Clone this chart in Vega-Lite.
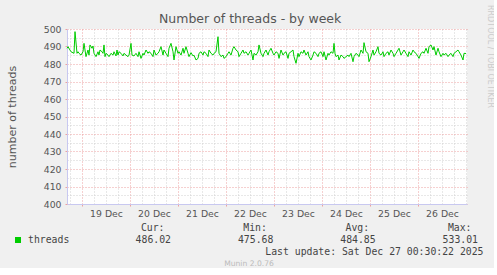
{
  "$schema": "https://vega.github.io/schema/vega-lite/v6.json",
  "background": "#f0f0f0",
  "padding": {"left": 6, "top": 5, "right": 0, "bottom": 0},
  "title": {"text": "Number of threads - by week", "font": "DejaVu Sans", "fontSize": 12.5, "fontWeight": "normal", "color": "#555555", "anchor": "middle", "offset": -20},
  "config": {"view": {"stroke": null}},
  "bounds": "flush",
  "spacing": 24,
  "vconcat": [
    {
      "width": 400,
      "height": 175,
      "view": {"fill": "#ffffff", "stroke": null},
      "title": {"text": "RRDTOOL / TOBI OETIKER", "orient": "right", "anchor": "start", "frame": "group", "font": "DejaVu Sans", "fontSize": 8, "fontWeight": "normal", "color": "#cccccc", "offset": 18, "dx": -24},
      "data": {"values": [
        {"t":"2025-12-18T16:30Z","v":489.0},{"t":"2025-12-18T17:00Z","v":489.9},{"t":"2025-12-18T18:30Z","v":487.0},{"t":"2025-12-18T20:00Z","v":486.1},{"t":"2025-12-18T20:30Z","v":498.5},{"t":"2025-12-18T21:30Z","v":486.1},{"t":"2025-12-18T22:00Z","v":487.0},{"t":"2025-12-18T22:30Z","v":486.1},{"t":"2025-12-18T23:30Z","v":485.1},
        {"t":"2025-12-19T00:30Z","v":487.0},{"t":"2025-12-19T01:00Z","v":491.8},{"t":"2025-12-19T02:00Z","v":484.2},{"t":"2025-12-19T03:00Z","v":488.0},{"t":"2025-12-19T03:30Z","v":485.1},{"t":"2025-12-19T04:00Z","v":490.9},{"t":"2025-12-19T05:00Z","v":489.0},{"t":"2025-12-19T05:30Z","v":490.3},{"t":"2025-12-19T06:00Z","v":486.1},{"t":"2025-12-19T07:00Z","v":484.2},{"t":"2025-12-19T08:00Z","v":487.0},{"t":"2025-12-19T08:30Z","v":485.1},{"t":"2025-12-19T09:00Z","v":488.0},{"t":"2025-12-19T10:00Z","v":487.0},{"t":"2025-12-19T10:30Z","v":486.1},{"t":"2025-12-19T11:00Z","v":490.9},{"t":"2025-12-19T11:30Z","v":484.2},{"t":"2025-12-19T12:00Z","v":486.1},{"t":"2025-12-19T13:00Z","v":485.1},{"t":"2025-12-19T13:30Z","v":484.2},{"t":"2025-12-19T14:30Z","v":486.1},{"t":"2025-12-19T15:30Z","v":485.1},{"t":"2025-12-19T16:00Z","v":487.0},{"t":"2025-12-19T17:00Z","v":484.6},{"t":"2025-12-19T17:30Z","v":488.0},{"t":"2025-12-19T18:00Z","v":485.1},{"t":"2025-12-19T18:30Z","v":487.0},{"t":"2025-12-19T19:30Z","v":486.1},{"t":"2025-12-19T20:30Z","v":484.6},{"t":"2025-12-19T21:00Z","v":486.1},{"t":"2025-12-19T22:00Z","v":485.1},{"t":"2025-12-19T23:00Z","v":484.2},{"t":"2025-12-19T23:30Z","v":485.1},
        {"t":"2025-12-20T00:30Z","v":491.8},{"t":"2025-12-20T01:00Z","v":485.1},{"t":"2025-12-20T02:00Z","v":484.6},{"t":"2025-12-20T03:00Z","v":486.1},{"t":"2025-12-20T04:00Z","v":484.2},{"t":"2025-12-20T04:30Z","v":487.0},{"t":"2025-12-20T05:30Z","v":483.2},{"t":"2025-12-20T06:30Z","v":486.1},{"t":"2025-12-20T07:00Z","v":485.1},{"t":"2025-12-20T08:00Z","v":488.0},{"t":"2025-12-20T09:00Z","v":486.1},{"t":"2025-12-20T09:30Z","v":487.0},{"t":"2025-12-20T10:30Z","v":486.1},{"t":"2025-12-20T11:30Z","v":484.2},{"t":"2025-12-20T12:00Z","v":488.0},{"t":"2025-12-20T13:00Z","v":485.1},{"t":"2025-12-20T14:00Z","v":486.1},{"t":"2025-12-20T14:30Z","v":487.0},{"t":"2025-12-20T15:30Z","v":489.9},{"t":"2025-12-20T16:30Z","v":485.1},{"t":"2025-12-20T17:00Z","v":488.0},{"t":"2025-12-20T18:00Z","v":486.1},{"t":"2025-12-20T19:00Z","v":484.2},{"t":"2025-12-20T19:30Z","v":489.0},{"t":"2025-12-20T20:30Z","v":491.8},{"t":"2025-12-20T21:30Z","v":487.0},{"t":"2025-12-20T22:00Z","v":482.3},{"t":"2025-12-20T23:00Z","v":489.9},
        {"t":"2025-12-21T00:00Z","v":486.1},{"t":"2025-12-21T00:30Z","v":487.0},{"t":"2025-12-21T01:30Z","v":485.1},{"t":"2025-12-21T02:30Z","v":489.0},{"t":"2025-12-21T03:00Z","v":486.1},{"t":"2025-12-21T04:00Z","v":489.9},{"t":"2025-12-21T05:00Z","v":486.1},{"t":"2025-12-21T05:30Z","v":484.2},{"t":"2025-12-21T06:30Z","v":486.5},{"t":"2025-12-21T07:30Z","v":484.6},{"t":"2025-12-21T08:00Z","v":485.0},{"t":"2025-12-21T09:00Z","v":482.3},{"t":"2025-12-21T10:00Z","v":483.2},{"t":"2025-12-21T10:30Z","v":486.1},{"t":"2025-12-21T11:30Z","v":487.0},{"t":"2025-12-21T12:30Z","v":485.1},{"t":"2025-12-21T13:00Z","v":487.0},{"t":"2025-12-21T14:00Z","v":486.1},{"t":"2025-12-21T15:00Z","v":484.2},{"t":"2025-12-21T15:30Z","v":488.0},{"t":"2025-12-21T16:30Z","v":486.1},{"t":"2025-12-21T17:30Z","v":485.1},{"t":"2025-12-21T18:00Z","v":486.1},{"t":"2025-12-21T19:00Z","v":487.0},{"t":"2025-12-21T20:00Z","v":495.6},{"t":"2025-12-21T20:30Z","v":486.1},{"t":"2025-12-21T21:30Z","v":484.2},{"t":"2025-12-21T22:30Z","v":485.1},{"t":"2025-12-21T23:00Z","v":483.2},
        {"t":"2025-12-22T00:00Z","v":484.2},{"t":"2025-12-22T01:00Z","v":486.1},{"t":"2025-12-22T01:30Z","v":487.0},{"t":"2025-12-22T02:30Z","v":485.1},{"t":"2025-12-22T03:30Z","v":489.0},{"t":"2025-12-22T04:00Z","v":489.9},{"t":"2025-12-22T05:00Z","v":488.0},{"t":"2025-12-22T06:00Z","v":487.0},{"t":"2025-12-22T06:30Z","v":484.2},{"t":"2025-12-22T07:30Z","v":486.1},{"t":"2025-12-22T08:30Z","v":488.0},{"t":"2025-12-22T09:00Z","v":486.1},{"t":"2025-12-22T10:00Z","v":487.0},{"t":"2025-12-22T11:00Z","v":485.1},{"t":"2025-12-22T11:30Z","v":486.1},{"t":"2025-12-22T12:30Z","v":488.0},{"t":"2025-12-22T13:30Z","v":482.3},{"t":"2025-12-22T14:00Z","v":486.1},{"t":"2025-12-22T15:00Z","v":485.1},{"t":"2025-12-22T16:00Z","v":487.0},{"t":"2025-12-22T16:30Z","v":490.9},{"t":"2025-12-22T17:30Z","v":486.1},{"t":"2025-12-22T18:30Z","v":484.2},{"t":"2025-12-22T19:00Z","v":486.1},{"t":"2025-12-22T20:00Z","v":488.0},{"t":"2025-12-22T21:00Z","v":485.1},{"t":"2025-12-22T21:30Z","v":487.0},{"t":"2025-12-22T22:30Z","v":489.0},{"t":"2025-12-22T23:30Z","v":486.1},
        {"t":"2025-12-23T00:00Z","v":485.1},{"t":"2025-12-23T01:00Z","v":487.0},{"t":"2025-12-23T02:00Z","v":486.1},{"t":"2025-12-23T02:30Z","v":483.2},{"t":"2025-12-23T03:30Z","v":488.0},{"t":"2025-12-23T04:30Z","v":485.1},{"t":"2025-12-23T05:00Z","v":486.1},{"t":"2025-12-23T06:00Z","v":487.0},{"t":"2025-12-23T07:00Z","v":483.2},{"t":"2025-12-23T07:30Z","v":486.1},{"t":"2025-12-23T08:30Z","v":487.0},{"t":"2025-12-23T09:30Z","v":488.0},{"t":"2025-12-23T10:00Z","v":484.2},{"t":"2025-12-23T11:00Z","v":480.4},{"t":"2025-12-23T12:00Z","v":486.1},{"t":"2025-12-23T12:30Z","v":484.2},{"t":"2025-12-23T13:30Z","v":487.0},{"t":"2025-12-23T14:30Z","v":486.1},{"t":"2025-12-23T15:00Z","v":488.0},{"t":"2025-12-23T16:00Z","v":485.1},{"t":"2025-12-23T17:00Z","v":487.0},{"t":"2025-12-23T17:30Z","v":484.2},{"t":"2025-12-23T18:30Z","v":482.3},{"t":"2025-12-23T19:30Z","v":485.1},{"t":"2025-12-23T20:00Z","v":487.0},{"t":"2025-12-23T21:00Z","v":486.1},{"t":"2025-12-23T22:00Z","v":484.2},{"t":"2025-12-23T22:30Z","v":486.1},{"t":"2025-12-23T23:30Z","v":487.0},
        {"t":"2025-12-24T00:30Z","v":484.2},{"t":"2025-12-24T01:00Z","v":487.0},{"t":"2025-12-24T02:00Z","v":482.3},{"t":"2025-12-24T03:00Z","v":486.1},{"t":"2025-12-24T03:30Z","v":485.1},{"t":"2025-12-24T04:30Z","v":487.0},{"t":"2025-12-24T05:30Z","v":486.1},{"t":"2025-12-24T06:00Z","v":491.8},{"t":"2025-12-24T06:30Z","v":486.1},{"t":"2025-12-24T07:00Z","v":484.2},{"t":"2025-12-24T08:00Z","v":485.1},{"t":"2025-12-24T08:30Z","v":482.3},{"t":"2025-12-24T09:30Z","v":485.1},{"t":"2025-12-24T10:30Z","v":484.2},{"t":"2025-12-24T11:00Z","v":483.2},{"t":"2025-12-24T12:00Z","v":484.2},{"t":"2025-12-24T13:00Z","v":485.1},{"t":"2025-12-24T13:30Z","v":484.2},{"t":"2025-12-24T14:30Z","v":486.1},{"t":"2025-12-24T15:30Z","v":481.3},{"t":"2025-12-24T16:00Z","v":484.2},{"t":"2025-12-24T17:00Z","v":486.1},{"t":"2025-12-24T18:00Z","v":485.1},{"t":"2025-12-24T18:30Z","v":484.2},{"t":"2025-12-24T19:30Z","v":488.0},{"t":"2025-12-24T20:30Z","v":486.1},{"t":"2025-12-24T21:00Z","v":492.2},{"t":"2025-12-24T22:00Z","v":487.0},{"t":"2025-12-24T23:00Z","v":486.1},{"t":"2025-12-24T23:30Z","v":481.3},
        {"t":"2025-12-25T00:30Z","v":484.2},{"t":"2025-12-25T01:30Z","v":488.0},{"t":"2025-12-25T02:00Z","v":485.1},{"t":"2025-12-25T03:00Z","v":487.0},{"t":"2025-12-25T04:00Z","v":489.9},{"t":"2025-12-25T04:30Z","v":486.1},{"t":"2025-12-25T05:30Z","v":485.1},{"t":"2025-12-25T06:30Z","v":487.0},{"t":"2025-12-25T07:00Z","v":484.2},{"t":"2025-12-25T08:00Z","v":486.1},{"t":"2025-12-25T09:00Z","v":487.0},{"t":"2025-12-25T09:30Z","v":485.1},{"t":"2025-12-25T10:30Z","v":488.0},{"t":"2025-12-25T11:30Z","v":486.1},{"t":"2025-12-25T12:00Z","v":484.2},{"t":"2025-12-25T13:00Z","v":486.1},{"t":"2025-12-25T14:00Z","v":488.0},{"t":"2025-12-25T14:30Z","v":489.0},{"t":"2025-12-25T15:30Z","v":485.1},{"t":"2025-12-25T16:30Z","v":487.0},{"t":"2025-12-25T17:00Z","v":488.0},{"t":"2025-12-25T18:00Z","v":486.1},{"t":"2025-12-25T19:00Z","v":484.2},{"t":"2025-12-25T19:30Z","v":487.0},{"t":"2025-12-25T20:30Z","v":485.1},{"t":"2025-12-25T21:30Z","v":488.0},{"t":"2025-12-25T22:00Z","v":487.0},{"t":"2025-12-25T23:00Z","v":486.1},
        {"t":"2025-12-26T00:00Z","v":484.2},{"t":"2025-12-26T00:30Z","v":483.2},{"t":"2025-12-26T01:30Z","v":486.1},{"t":"2025-12-26T02:30Z","v":487.0},{"t":"2025-12-26T03:00Z","v":486.1},{"t":"2025-12-26T04:00Z","v":489.0},{"t":"2025-12-26T05:00Z","v":486.1},{"t":"2025-12-26T05:30Z","v":489.9},{"t":"2025-12-26T06:30Z","v":490.9},{"t":"2025-12-26T07:30Z","v":488.0},{"t":"2025-12-26T08:00Z","v":489.9},{"t":"2025-12-26T09:00Z","v":485.1},{"t":"2025-12-26T10:00Z","v":489.0},{"t":"2025-12-26T10:30Z","v":487.0},{"t":"2025-12-26T11:30Z","v":484.2},{"t":"2025-12-26T12:30Z","v":486.1},{"t":"2025-12-26T13:00Z","v":485.1},{"t":"2025-12-26T14:00Z","v":486.1},{"t":"2025-12-26T15:00Z","v":484.2},{"t":"2025-12-26T15:30Z","v":485.1},{"t":"2025-12-26T16:30Z","v":486.1},{"t":"2025-12-26T17:30Z","v":484.2},{"t":"2025-12-26T18:00Z","v":486.1},{"t":"2025-12-26T19:00Z","v":487.0},{"t":"2025-12-26T20:00Z","v":488.0},{"t":"2025-12-26T20:30Z","v":487.0},{"t":"2025-12-26T21:30Z","v":485.1},{"t":"2025-12-26T22:30Z","v":482.3},{"t":"2025-12-26T23:00Z","v":486.1},
        {"t":"2025-12-27T00:00Z","v":486.0}
      ]},
      "layer": [
        {
          "mark": {"type": "line", "strokeWidth": 1, "color": "#00cc00"},
          "encoding": {
            "x": {
              "field": "t", "type": "temporal",
              "scale": {"type": "utc", "domain": [1766075400000, 1766795400000], "nice": false},
              "axis": {
                "title": null,
                "values": [1766102400000, 1766188800000, 1766275200000, 1766361600000, 1766448000000, 1766534400000, 1766620800000, 1766707200000],
                "format": "%d %b",
                "labelOffset": 24, "labelOverlap": false, "labelFlush": false,
                "labelFont": "DejaVu Sans", "labelFontSize": 9.3, "labelColor": "#555555", "labelPadding": 3,
                "grid": true, "gridColor": "#eda0a0", "gridDash": [1, 2],
                "ticks": true, "tickColor": "#eda0a0", "tickSize": 2,
                "domainColor": "#c8c8f0"
              }
            },
            "y": {
              "field": "v", "type": "quantitative",
              "scale": {"domain": [400, 500], "nice": false, "zero": false},
              "axis": {
                "title": "number of threads",
                "titleFont": "DejaVu Sans", "titleFontSize": 11, "titleFontWeight": "normal", "titleColor": "#555555", "titlePadding": 26,
                "values": [400, 410, 420, 430, 440, 450, 460, 470, 480, 490, 500],
                "labelFont": "DejaVu Sans", "labelFontSize": 9.3, "labelColor": "#555555", "labelPadding": 4, "labelFlush": false, "labelOverlap": false,
                "grid": true, "gridColor": "#eda0a0", "gridDash": [1, 2],
                "ticks": true, "tickColor": "#eda0a0", "tickSize": 2,
                "domainColor": "#c8c8f0"
              }
            }
          }
        },
        {
          "mark": {"type": "line", "strokeWidth": 1, "strokeOpacity": 0},
          "encoding": {
            "x": {
              "field": "t", "type": "temporal",
              "axis": {
                "orient": "bottom", "title": null,
                "values": [1766080800000, 1766124000000, 1766145600000, 1766167200000, 1766210400000, 1766232000000, 1766253600000, 1766296800000, 1766318400000, 1766340000000, 1766383200000, 1766404800000, 1766426400000, 1766469600000, 1766491200000, 1766512800000, 1766556000000, 1766577600000, 1766599200000, 1766642400000, 1766664000000, 1766685600000, 1766728800000, 1766750400000, 1766772000000, 1766793600000],
                "labels": false, "ticks": false, "domain": false,
                "grid": true, "gridColor": "#d0d0d0", "gridDash": [1, 2]
              }
            },
            "y": {
              "field": "v", "type": "quantitative",
              "axis": {
                "orient": "left", "title": null,
                "values": [405, 415, 425, 435, 445, 455, 465, 475, 485, 495],
                "labels": false, "ticks": false, "domain": false,
                "grid": true, "gridColor": "#d0d0d0", "gridDash": [1, 2]
              }
            }
          }
        }
      ],
      "resolve": {"axis": {"x": "independent", "y": "independent"}}
    },
    {
      "width": 400,
      "height": 24,
      "data": {"values": [
        {"col": "Cur", "row": "head", "text": "Cur:"},
        {"col": "Min", "row": "head", "text": "Min:"},
        {"col": "Avg", "row": "head", "text": "Avg:"},
        {"col": "Max", "row": "head", "text": "Max:"},
        {"col": "Cur", "row": "val", "text": "486.02"},
        {"col": "Min", "row": "val", "text": "475.68"},
        {"col": "Avg", "row": "val", "text": "484.85"},
        {"col": "Max", "row": "val", "text": "533.01"},
        {"col": "Max", "row": "update", "text": "Last update: Sat Dec 27 00:30:22 2025"},
        {"col": "sym", "row": "val", "text": ""},
        {"col": "label", "row": "val", "text": "threads"}
      ]},
      "title": {"text": "Munin 2.0.76", "orient": "bottom", "anchor": "middle", "font": "DejaVu Sans", "fontSize": 7.6, "fontWeight": "normal", "color": "#bbbbbb", "dx": -18, "offset": 3},
      "layer": [
        {
          "transform": [{"filter": "datum.row == 'head'"}],
          "mark": {"type": "text", "align": "right", "baseline": "middle", "dx": -6.5, "font": "DejaVu Sans Mono", "fontSize": 9.8, "color": "#444444"},
          "encoding": {
            "x": {"field": "col", "type": "nominal", "scale": {"type": "point", "domain": ["Cur", "Min", "Avg", "Max"], "range": [104, 411], "padding": 0}, "axis": null},
            "y": {"field": "row", "type": "nominal", "scale": {"type": "point", "domain": ["head", "val", "update"], "range": [0, 24], "padding": 0}, "axis": null},
            "text": {"field": "text"}
          }
        },
        {
          "transform": [{"filter": "datum.row == 'val' && datum.col != 'sym' && datum.col != 'label'"}],
          "mark": {"type": "text", "align": "right", "baseline": "middle", "font": "DejaVu Sans Mono", "fontSize": 9.8, "color": "#444444"},
          "encoding": {
            "x": {"field": "col", "type": "nominal", "scale": {"type": "point", "domain": ["Cur", "Min", "Avg", "Max"], "range": [104, 411], "padding": 0}, "axis": null},
            "y": {"field": "row", "type": "nominal", "scale": {"type": "point", "domain": ["head", "val", "update"], "range": [0, 24], "padding": 0}, "axis": null},
            "text": {"field": "text"}
          }
        },
        {
          "transform": [{"filter": "datum.row == 'update'"}],
          "mark": {"type": "text", "align": "right", "baseline": "middle", "dx": 5.5, "font": "DejaVu Sans Mono", "fontSize": 9.8, "color": "#444444"},
          "encoding": {
            "x": {"field": "col", "type": "nominal", "scale": {"type": "point", "domain": ["Cur", "Min", "Avg", "Max"], "range": [104, 411], "padding": 0}, "axis": null},
            "y": {"field": "row", "type": "nominal", "scale": {"type": "point", "domain": ["head", "val", "update"], "range": [0, 24], "padding": 0}, "axis": null},
            "text": {"field": "text"}
          }
        },
        {
          "transform": [{"filter": "datum.col == 'sym'"}],
          "mark": {"type": "square", "size": 36, "color": "#00cc00", "opacity": 1},
          "encoding": {
            "x": {"field": "col", "type": "nominal", "scale": {"type": "point", "domain": ["sym", "label"], "range": [-49, -39], "padding": 0}, "axis": null},
            "y": {"field": "row", "type": "nominal", "scale": {"type": "point", "domain": ["head", "val", "update"], "range": [0, 24], "padding": 0}, "axis": null}
          }
        },
        {
          "transform": [{"filter": "datum.col == 'label'"}],
          "mark": {"type": "text", "align": "left", "baseline": "middle", "font": "DejaVu Sans Mono", "fontSize": 9.8, "color": "#444444"},
          "encoding": {
            "x": {"field": "col", "type": "nominal", "scale": {"type": "point", "domain": ["sym", "label"], "range": [-49, -39], "padding": 0}, "axis": null},
            "y": {"field": "row", "type": "nominal", "scale": {"type": "point", "domain": ["head", "val", "update"], "range": [0, 24], "padding": 0}, "axis": null},
            "text": {"field": "text"}
          }
        }
      ],
      "resolve": {"scale": {"x": "independent"}}
    }
  ]
}
